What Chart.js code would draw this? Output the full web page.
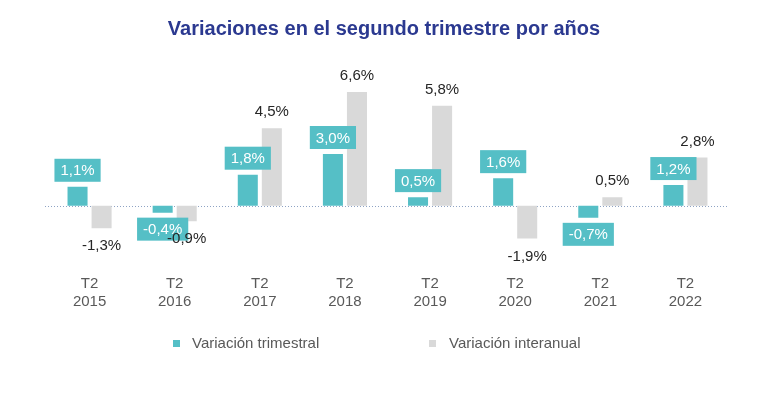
<!DOCTYPE html>
<html>
<head>
<meta charset="utf-8">
<script src="https://cdn.jsdelivr.net/npm/chart.js@4.4.1/dist/chart.umd.min.js"></script>
<style>
  html, body { margin: 0; padding: 0; background: #fff; }
  .wrap { position: relative; width: 768px; height: 393px; }
  .title {
    position: absolute; left: 0; top: 16px; width: 768px; text-align: center;
    font: bold 20px "Liberation Sans", Arial, sans-serif; line-height: 24px; color: #2B3990;
  }
  .legend {
    position: absolute; top: 334px; left: 0; width: 768px; height: 18px;
    font: 15px "Liberation Sans", Arial, sans-serif; line-height: 18px; color: #595959;
  }
  .legend span { position: absolute; top: 0; white-space: nowrap; }
  .legend i { position: absolute; top: 6px; width: 7px; height: 7px; }
</style>
</head>
<body>
<div class="wrap">
  <canvas id="barVariaciones" width="768" height="393"></canvas>
  <div class="title">Variaciones en el segundo trimestre por años</div>
  <div class="legend">
    <i style="left:173px; background:#55BFC6"></i><span style="left:192px">Variación trimestral</span>
    <i style="left:429px; background:#D9D9D9"></i><span style="left:449px">Variación interanual</span>
  </div>
</div>

<script>
    // datos
    const categorias = [['T2', '2015'], ['T2', '2016'], ['T2', '2017'], ['T2', '2018'],
                        ['T2', '2019'], ['T2', '2020'], ['T2', '2021'], ['T2', '2022']];
    const trimestral = [1.1, -0.4, 1.8, 3.0, 0.5, 1.6, -0.7, 1.2];
    const interanual = [-1.3, -0.9, 4.5, 6.6, 5.8, -1.9, 0.5, 2.8];

    const colorTrim = '#55BFC6';
    const colorInter = '#D9D9D9';

    function fmt(v) {
        return v.toFixed(1).replace('.', ',') + '%';
    }

    // linea de cero punteada
    const zeroLine = {
        id: 'zeroLine',
        beforeDatasetsDraw(chart) {
            const ctx = chart.ctx;
            const y = Math.round(chart.scales.y.getPixelForValue(0)) + 0.5;
            ctx.save();
            ctx.strokeStyle = '#8EA3C4';
            ctx.lineWidth = 1;
            ctx.setLineDash([1, 2]);
            ctx.beginPath();
            ctx.moveTo(chart.chartArea.left - 2, y);
            ctx.lineTo(chart.chartArea.right, y);
            ctx.stroke();
            ctx.restore();
        }
    };

    // etiquetas de valores
    const valueLabels = {
        id: 'valueLabels',
        afterDatasetsDraw(chart) {
            const ctx = chart.ctx;
            ctx.save();
            ctx.font = '15px "Liberation Sans", Arial, sans-serif';
            ctx.textAlign = 'center';
            ctx.textBaseline = 'middle';

            // trimestral: caja teal con texto blanco
            chart.getDatasetMeta(0).data.forEach(function (bar, i) {
                const v = trimestral[i];
                const txt = fmt(v);
                const w = ctx.measureText(txt).width + 12;
                const h = 23;
                const top = v >= 0 ? bar.y - 5 - h : bar.y + 5;
                ctx.fillStyle = colorTrim;
                ctx.fillRect(bar.x - w / 2, top, w, h);
                ctx.fillStyle = '#ffffff';
                ctx.fillText(txt, bar.x, top + h / 2 + 1);
            });

            // interanual: texto oscuro
            ctx.fillStyle = '#262626';
            chart.getDatasetMeta(1).data.forEach(function (bar, i) {
                const v = interanual[i];
                const y = v >= 0 ? bar.y - 16 : bar.y + 18;
                ctx.fillText(fmt(v), bar.x, y);
            });
            ctx.restore();
        }
    };

    var canvas = document.getElementById('barVariaciones');

    new Chart(canvas, {
        type: 'bar',
        data: {
            labels: categorias,
            datasets: [{
                label: 'Variación trimestral',
                data: trimestral,
                backgroundColor: colorTrim,
                categoryPercentage: 0.565,
                barPercentage: 0.833
            }, {
                label: 'Variación interanual',
                data: interanual,
                backgroundColor: colorInter,
                categoryPercentage: 0.565,
                barPercentage: 0.833
            }]
        },
        options: {
            responsive: false,
            animation: false,
            layout: {
                padding: { left: 47, right: 40, top: 85, bottom: 65 }
            },
            plugins: {
                legend: { display: false },
                tooltip: { enabled: false }
            },
            scales: {
                x: {
                    grid: { display: false, drawTicks: false },
                    border: { display: false },
                    ticks: {
                        padding: 18,
                        color: '#595959',
                        font: { family: '"Liberation Sans", Arial, sans-serif', size: 15, lineHeight: 1.15 }
                    }
                },
                y: {
                    display: false,
                    min: -3,
                    max: 7
                }
            }
        },
        plugins: [zeroLine, valueLabels]
    });
</script>
</body>
</html>
